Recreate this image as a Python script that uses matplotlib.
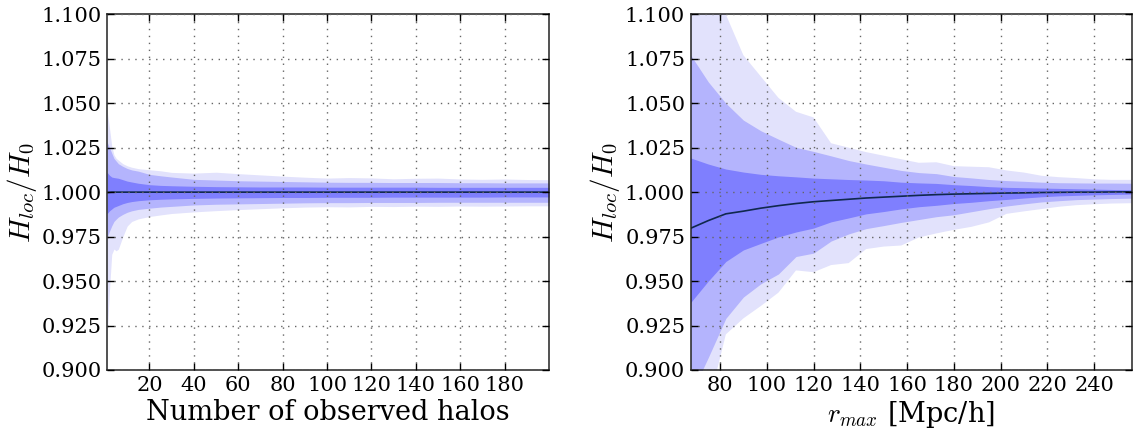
import matplotlib
matplotlib.use("Agg")
import matplotlib.pyplot as plt

plt.rcParams["font.family"] = "serif"
plt.rcParams["font.serif"] = ["DejaVu Serif"]
plt.rcParams["mathtext.fontset"] = "cm"

# --- left panel: H_loc/H_0 vs number of observed halos ---
n_halos = [1, 2, 3, 4, 5, 6, 8, 10, 12, 15, 20, 25, 30, 40, 50, 60, 70, 80,
           90, 100, 110, 120, 130, 140, 150, 160, 170, 180, 190, 200]

n_mean = [0.9998, 0.9999, 1.0, 1.0, 1.0, 1.0, 1.0, 1.0, 1.0, 1.0, 1.0, 1.0,
          1.0, 1.0, 1.0, 1.0, 1.0, 1.0, 1.0, 1.0, 1.0, 1.0, 1.0, 1.0, 1.0,
          1.0, 1.0, 1.0, 1.0, 1.0]

n_lo1 = [0.9880, 0.9895, 0.9905, 0.9915, 0.9920, 0.9925, 0.9935, 0.9942,
         0.9947, 0.9952, 0.9957, 0.9960, 0.9962, 0.9965, 0.9967, 0.9968,
         0.9969, 0.9970, 0.9970, 0.9971, 0.9971, 0.9971, 0.9972, 0.9972,
         0.9972, 0.9972, 0.9972, 0.9973, 0.9973, 0.9973]
n_hi1 = [1.0110, 1.0095, 1.0085, 1.0082, 1.0080, 1.0078, 1.0070, 1.0062,
         1.0057, 1.0050, 1.0042, 1.0038, 1.0036, 1.0033, 1.0031, 1.0030,
         1.0029, 1.0029, 1.0029, 1.0028, 1.0028, 1.0028, 1.0028, 1.0028,
         1.0027, 1.0027, 1.0027, 1.0027, 1.0027, 1.0027]

n_lo2 = [0.9750, 0.9780, 0.9810, 0.9835, 0.9848, 0.9860, 0.9875, 0.9887,
         0.9895, 0.9903, 0.9910, 0.9916, 0.9920, 0.9928, 0.9932, 0.9934,
         0.9936, 0.9938, 0.9940, 0.9941, 0.9941, 0.9942, 0.9942, 0.9942,
         0.9943, 0.9943, 0.9943, 0.9943, 0.9943, 0.9943]
n_hi2 = [1.0280, 1.0250, 1.0220, 1.0190, 1.0175, 1.0160, 1.0145, 1.0133,
         1.0125, 1.0118, 1.0100, 1.0092, 1.0085, 1.0072, 1.0068, 1.0064,
         1.0062, 1.0060, 1.0058, 1.0056, 1.0055, 1.0055, 1.0054, 1.0054,
         1.0054, 1.0053, 1.0053, 1.0052, 1.0052, 1.0052]

n_lo3 = [0.9200, 0.9450, 0.9650, 0.9680, 0.9670, 0.9680, 0.9750, 0.9810,
         0.9835, 0.9850, 0.9863, 0.9872, 0.9880, 0.9889, 0.9896, 0.9902,
         0.9907, 0.9912, 0.9916, 0.9918, 0.9917, 0.9920, 0.9919, 0.9921,
         0.9920, 0.9922, 0.9921, 0.9922, 0.9923, 0.9923]
n_hi3 = [1.0450, 1.0360, 1.0260, 1.0210, 1.0190, 1.0180, 1.0160, 1.0148,
         1.0140, 1.0132, 1.0126, 1.0120, 1.0111, 1.0107, 1.0112, 1.0104,
         1.0097, 1.0090, 1.0084, 1.0079, 1.0082, 1.0080, 1.0075, 1.0078,
         1.0079, 1.0074, 1.0072, 1.0074, 1.0071, 1.0070]

# --- right panel: H_loc/H_0 vs r_max ---
r_max = [67.5, 75, 82.5, 90, 97.5, 105, 112.5, 120, 127.5, 135, 142.5, 150,
         157.5, 165, 172.5, 180, 187.5, 195, 202.5, 210, 217.5, 225, 232.5,
         240, 247.5, 256]

r_mean = [0.9797, 0.9840, 0.9878, 0.9893, 0.9910, 0.9924, 0.9936, 0.9946,
          0.9953, 0.9960, 0.9967, 0.9972, 0.9977, 0.9982, 0.9986, 0.9989,
          0.9991, 0.9993, 0.9995, 0.9996, 0.9998, 0.9999, 1.0000, 1.0000,
          1.0001, 1.0002]

r_lo1 = [0.9380, 0.9500, 0.9610, 0.9675, 0.9712, 0.9748, 0.9776, 0.9798,
         0.9833, 0.9855, 0.9878, 0.9891, 0.9906, 0.9918, 0.9926, 0.9936,
         0.9943, 0.9952, 0.9959, 0.9967, 0.9974, 0.9979, 0.9982, 0.9985,
         0.9987, 0.9989]
r_hi1 = [1.0192, 1.0158, 1.0130, 1.0113, 1.0100, 1.0092, 1.0086, 1.0079,
         1.0075, 1.0071, 1.0068, 1.0064, 1.0056, 1.0052, 1.0049, 1.0042,
         1.0037, 1.0031, 1.0027, 1.0025, 1.0023, 1.0021, 1.0019, 1.0017,
         1.0015, 1.0013]

r_lo2 = [0.8860, 0.9070, 0.9290, 0.9410, 0.9485, 0.9540, 0.9638, 0.9657,
         0.9725, 0.9765, 0.9795, 0.9812, 0.9830, 0.9846, 0.9862, 0.9873,
         0.9890, 0.9907, 0.9922, 0.9934, 0.9945, 0.9952, 0.9958, 0.9961,
         0.9964, 0.9966]
r_hi2 = [1.0770, 1.0620, 1.0500, 1.0405, 1.0345, 1.0298, 1.0252, 1.0229,
         1.0204, 1.0178, 1.0158, 1.0140, 1.0122, 1.0110, 1.0104, 1.0088,
         1.0080, 1.0071, 1.0065, 1.0061, 1.0056, 1.0053, 1.0052, 1.0051,
         1.0051, 1.0050]

r_lo3 = [0.8500, 0.8800, 0.9200, 0.9290, 0.9360, 0.9435, 0.9560, 0.9550,
         0.9590, 0.9601, 0.9680, 0.9694, 0.9700, 0.9745, 0.9768, 0.9788,
         0.9805, 0.9830, 0.9878, 0.9892, 0.9905, 0.9918, 0.9927, 0.9932,
         0.9936, 0.9938]
r_hi3 = [1.1400, 1.1200, 1.1000, 1.0770, 1.0650, 1.0530, 1.0452, 1.0420,
         1.0275, 1.0250, 1.0225, 1.0205, 1.0185, 1.0165, 1.0168, 1.0146,
         1.0143, 1.0140, 1.0122, 1.0110, 1.0092, 1.0084, 1.0079, 1.0072,
         1.0069, 1.0069]

yticks = [0.900, 0.925, 0.950, 0.975, 1.000, 1.025, 1.050, 1.075, 1.100]

C_LIGHT = "#e2e2fc"
C_MID = "#b4b4fd"
C_DARK = "#7f7ffe"
C_LINE = "#10284e"


def draw_panel(ax, x, mean, bands, xlim, xticks, xlabel):
    # widest band first so the narrow ones sit on top
    for (lo, hi), col in zip(bands, [C_LIGHT, C_MID, C_DARK]):
        ax.fill_between(x, lo, hi, color=col, linewidth=0, zorder=1)
    ax.plot(x, mean, color=C_LINE, lw=1.2, zorder=2)

    ax.set_xlim(*xlim)
    ax.set_ylim(0.9, 1.1)
    ax.set_xticks(xticks)
    ax.set_yticks(yticks)
    ax.set_yticklabels(["%.3f" % v for v in yticks])
    ax.grid(True, color="#666666", linestyle=(0, (1, 4)), linewidth=1.0,
            zorder=2.5)
    ax.set_axisbelow(False)
    ax.tick_params(direction="in", length=5, width=1, top=True, right=True,
                   labelsize=15, pad=4)
    for s in ax.spines.values():
        s.set_linewidth(1.1)
        s.set_color("#222222")
    ax.set_xlabel(xlabel, fontsize=19.5, labelpad=3)
    ax.set_ylabel(r"$H_{loc}/H_0$", fontsize=21, labelpad=2)


fig = plt.figure(figsize=(11.4, 4.36), dpi=100)
ax1 = fig.add_axes([0.0941, 0.1514, 0.3875, 0.8158])
ax2 = fig.add_axes([0.6059, 0.1514, 0.3868, 0.8158])

draw_panel(ax1, n_halos, n_mean,
           [(n_lo3, n_hi3), (n_lo2, n_hi2), (n_lo1, n_hi1)],
           (1, 200), range(20, 181, 20), "Number of observed halos")
draw_panel(ax2, r_max, r_mean,
           [(r_lo3, r_hi3), (r_lo2, r_hi2), (r_lo1, r_hi1)],
           (67.5, 256), range(80, 241, 20), r"$r_{max}$ [Mpc/h]")

fig.savefig("out.png", dpi=100, facecolor="white")
